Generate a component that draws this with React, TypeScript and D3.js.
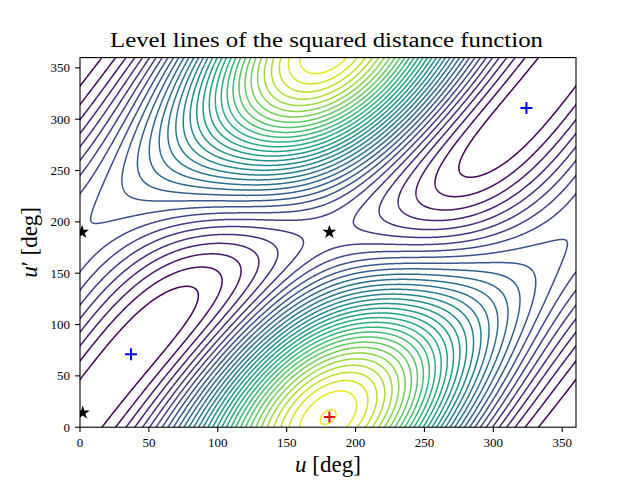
import React, { useMemo } from "react";
import * as d3 from "d3";

const RAD = Math.PI / 180;

// orbit 1: semimajor axis, eccentricity, argument of pericentre (deg)
const ORBIT1 = [1.0, 0.5335, 185.0752];
// orbit 2: semimajor axis, eccentricity, argument of pericentre (deg), mutual inclination (deg)
const ORBIT2 = [0.6021, 0.0283, 175.2908, 8.8043];

// critical points (deg)
const MIN_U = [37, 324];
const MIN_UP = [71, 311];
const MAX_U = [181];
const MAX_UP = [10];
const SAD_U = [1.5, 181, 2];
const SAD_UP = [190, 190, 14];

const X_TICKS = [0, 50, 100, 150, 200, 250, 300, 350];
const Y_TICKS = [0, 50, 100, 150, 200, 250, 300, 350];
const N_LEVELS = 34;
const LEVEL_STEP = 0.1317;

function model() {
  const [a1, e, w1d] = ORBIT1;
  const [a2, e2, w2d, incd] = ORBIT2;
  const w1 = w1d * RAD, w2 = w2d * RAD, inc = incd * RAD;
  const b1 = a1 * Math.sqrt(1 - e * e), b2 = a2 * Math.sqrt(1 - e2 * e2);
  const P1 = [Math.cos(w1), Math.sin(w1), 0];
  const Q1 = [-Math.sin(w1), Math.cos(w1), 0];
  const P2 = [Math.cos(w2), Math.sin(w2) * Math.cos(inc), Math.sin(w2) * Math.sin(inc)];
  const Q2 = [-Math.sin(w2), Math.cos(w2) * Math.cos(inc), Math.cos(w2) * Math.sin(inc)];
  return (u: number, v: number) => {
    const x1 = a1 * (Math.cos(u) - e), y1 = b1 * Math.sin(u);
    const x2 = a2 * (Math.cos(v) - e2), y2 = b2 * Math.sin(v);
    let s = 0;
    for (let k = 0; k < 3; k++) {
      const d = x1 * P1[k] + y1 * Q1[k] - x2 * P2[k] - y2 * Q2[k];
      s += d * d;
    }
    return s;
  };
}

export default function App() {
  const W = 640, H = 480;
  const L = 80, R = 576, T = 57.6, B = 427.2;
  const x = d3.scaleLinear().domain([0, 360]).range([L, R]);
  const y = d3.scaleLinear().domain([0, 360]).range([B, T]);

  const paths = useMemo(() => {
    const f = model();
    const u0 = -6, st = 0.5, n = 745;
    const values = new Array(n * n);
    for (let j = 0; j < n; j++)
      for (let i = 0; i < n; i++) values[j * n + i] = f((u0 + i * st) * RAD, (u0 + j * st) * RAD);
    const levels = d3.range(1, N_LEVELS + 1).map((k) => k * LEVEL_STEP);
    const lo = levels[0], hi = levels[levels.length - 1];
    const color = (lv: number) => d3.interpolateViridis((lv - lo) / (hi - lo));
    const proj = d3.geoTransform({
      point(px: number, py: number) {
        (this as any).stream.point(x(u0 + (px - 0.5) * st), y(u0 + (py - 0.5) * st));
      },
    });
    const gp = d3.geoPath(proj);
    const cs = d3.contours().size([n, n]).thresholds(levels)(values);
    return cs.map((c) => ({ d: gp(c as any) || "", stroke: color(c.value) }));
  }, []);

  const font = "'Liberation Serif', 'DejaVu Serif', serif";
  const plus = (cx: number, cy: number, col: string, s: number, k: string) => (
    <g key={k} stroke={col} strokeWidth={2}>
      <line x1={cx - s} x2={cx + s} y1={cy} y2={cy} />
      <line x1={cx} x2={cx} y1={cy - s} y2={cy + s} />
    </g>
  );
  const star = d3.symbol(d3.symbolStar, 60)();

  return (
    <svg width={W} height={H} style={{ display: "block", position: "absolute", left: 0, top: 0 }} fontFamily={font}>
      <rect width={W} height={H} fill="white" />
      <defs>
        <clipPath id="plotclip">
          <rect x={L} y={T} width={R - L} height={B - T} />
        </clipPath>
      </defs>
      <g clipPath="url(#plotclip)" fill="none" strokeWidth={1.5}>
        {paths.map((p, i) => (
          <path key={i} d={p.d} stroke={p.stroke} />
        ))}
        {MIN_U.map((u, i) => plus(x(u), y(MIN_UP[i]), "#0000ff", 6, "mn" + i))}
        {MAX_U.map((u, i) => plus(x(u), y(MAX_UP[i]), "#ff0000", 5.5, "mx" + i))}
        {SAD_U.map((u, i) => (
          <path key={"s" + i} d={star || ""} transform={`translate(${x(u)},${y(SAD_UP[i])})`} fill="black" />
        ))}
      </g>
      <rect x={L} y={T} width={R - L} height={B - T} fill="none" stroke="black" strokeWidth={1.1} />
      {X_TICKS.map((t) => (
        <g key={"x" + t}>
          <line x1={x(t)} x2={x(t)} y1={B} y2={B + 4.9} stroke="black" strokeWidth={1.1} />
          <text x={x(t)} y={447} textAnchor="middle" fontSize={13}>{t}</text>
        </g>
      ))}
      {Y_TICKS.map((t) => (
        <g key={"y" + t}>
          <line x1={L - 4.9} x2={L} y1={y(t)} y2={y(t)} stroke="black" strokeWidth={1.1} />
          <text x={70} y={y(t) + 4.3} textAnchor="end" fontSize={13}>{t}</text>
        </g>
      ))}
      <text x={110} y={47} fontSize={20} textLength={433} lengthAdjust="spacingAndGlyphs">
        Level lines of the squared distance function
      </text>
      <text x={328} y={472} textAnchor="middle" fontSize={23}>
        <tspan fontStyle="italic">u</tspan> [deg]
      </text>
      <text transform={`translate(37,242.4) rotate(-90)`} textAnchor="middle" fontSize={23}>
        <tspan fontStyle="italic">u</tspan>′ [deg]
      </text>
    </svg>
  );
}
